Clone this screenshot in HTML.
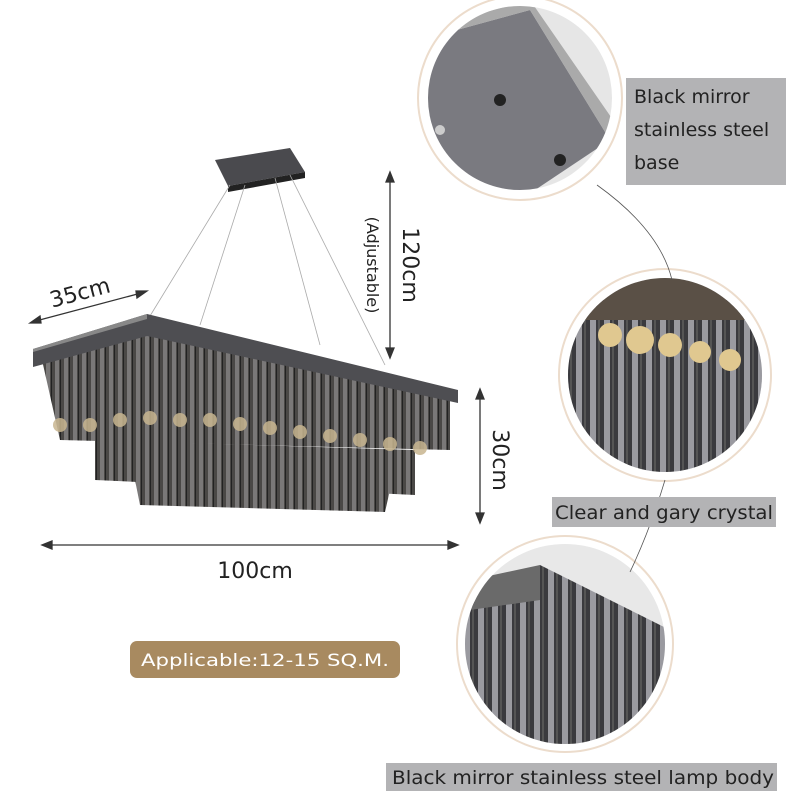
<!DOCTYPE html>
<html><head><style>
body{margin:0;background:#fff;width:800px;height:800px;overflow:hidden}
svg{display:block}
text{font-family:"DejaVu Sans","Liberation Sans",sans-serif}
</style></head><body>
<svg width="800" height="800" viewBox="0 0 800 800">
<defs>
<pattern id="cr" width="9" height="20" patternUnits="userSpaceOnUse">
<rect width="9" height="20" fill="#4a4846"/><rect x="1" width="4" height="20" fill="#7a7878"/><rect x="6" width="1" height="20" fill="#222"/>
</pattern>
<pattern id="cr2" width="14" height="20" patternUnits="userSpaceOnUse">
<rect width="14" height="20" fill="#3a3a3e"/><rect x="2" width="6" height="20" fill="#9a9aa0"/><rect x="10" width="2" height="20" fill="#555"/>
</pattern>
<clipPath id="c1"><circle cx="520" cy="98" r="92"/></clipPath>
<clipPath id="c2"><circle cx="665" cy="375" r="97"/></clipPath>
<clipPath id="c3"><circle cx="565" cy="644" r="100"/></clipPath>
</defs>
<polygon points="215,160 290,148 305,172 228,186" fill="#4a4a4e"/>
<polygon points="228,186 305,172 305,178 228,192" fill="#222"/>
<g stroke="#aaa" stroke-width="0.8">
<line x1="230" y1="185" x2="150" y2="316"/><line x1="245" y1="185" x2="200" y2="325"/>
<line x1="275" y1="178" x2="320" y2="345"/><line x1="290" y1="175" x2="385" y2="365"/>
</g>
<polygon points="42,360 147,330 450,400 450,450 60,440" fill="url(#cr)"/>
<polygon points="95,440 415,450 415,495 95,480" fill="url(#cr)"/>
<polygon points="135,480 390,490 385,512 140,505" fill="url(#cr)"/>
<polygon points="33,349 147,314 458,390 458,403 147,336 33,367" fill="#4e4e52"/>
<polygon points="33,349 147,314 147,319 33,352" fill="#888"/>
<g fill="#c8b690" opacity=".85">
<circle cx="60" cy="425" r="7"/><circle cx="90" cy="425" r="7"/><circle cx="120" cy="420" r="7"/><circle cx="150" cy="418" r="7"/><circle cx="180" cy="420" r="7"/><circle cx="210" cy="420" r="7"/><circle cx="240" cy="424" r="7"/><circle cx="270" cy="428" r="7"/><circle cx="300" cy="432" r="7"/><circle cx="330" cy="436" r="7"/><circle cx="360" cy="440" r="7"/><circle cx="390" cy="444" r="7"/><circle cx="420" cy="448" r="7"/>
</g>
<g stroke="#333" stroke-width="1.3" fill="#333">
<line x1="32" y1="322" x2="145" y2="292"/><polygon points="30,323 40,316 41,323"/><polygon points="147,291 137,298 136,291"/>
<line x1="390" y1="175" x2="390" y2="355"/><polygon points="390,172 386,182 394,182"/><polygon points="390,358 386,348 394,348"/>
<line x1="480" y1="392" x2="480" y2="520"/><polygon points="480,389 476,399 484,399"/><polygon points="480,523 476,513 484,513"/>
<line x1="45" y1="545" x2="455" y2="545"/><polygon points="42,545 52,541 52,549"/><polygon points="458,545 448,541 448,549"/>
</g>
<text x="80" y="300" font-size="22" fill="#222" text-anchor="middle" transform="rotate(-15 80 293)">35cm</text>
<text x="0" y="0" font-size="22" fill="#222" text-anchor="middle" transform="translate(403,265) rotate(90)">120cm</text>
<text x="0" y="0" font-size="16" fill="#222" text-anchor="middle" transform="translate(367,265) rotate(90)">(Adjustable)</text>
<text x="0" y="0" font-size="22" fill="#222" text-anchor="middle" transform="translate(493,460) rotate(90)">30cm</text>
<text x="255" y="578" font-size="22" fill="#222" text-anchor="middle">100cm</text>
<rect x="130" y="641" width="270" height="37" rx="7" fill="#a88a60"/>
<text x="265" y="666" font-size="17" fill="#fff" text-anchor="middle" textLength="248" lengthAdjust="spacingAndGlyphs">Applicable:12-15 SQ.M.</text>
<g fill="none" stroke="#ecdccc" stroke-width="2">
<circle cx="520" cy="98" r="102"/><circle cx="665" cy="375" r="106"/><circle cx="565" cy="644" r="108"/>
</g>
<g clip-path="url(#c1)">
<rect x="420" y="0" width="200" height="200" fill="#e6e6e6"/>
<polygon points="420,40 530,10 610,140 520,200 420,200" fill="#7a7a80"/>
<polygon points="420,30 530,0 620,130 610,140 530,10 420,40" fill="#aaa"/>
<circle cx="500" cy="100" r="6" fill="#222"/><circle cx="560" cy="160" r="6" fill="#222"/><circle cx="440" cy="130" r="5" fill="#ccc"/>
</g>
<g clip-path="url(#c2)">
<rect x="560" y="270" width="210" height="210" fill="#d8d8d8"/>
<rect x="560" y="300" width="210" height="180" fill="url(#cr2)"/>
<rect x="560" y="270" width="210" height="50" fill="#5a5046"/>
<g fill="#e0c890"><circle cx="610" cy="335" r="12"/><circle cx="640" cy="340" r="14"/><circle cx="670" cy="345" r="12"/><circle cx="700" cy="352" r="11"/><circle cx="730" cy="360" r="11"/></g>
</g>
<g clip-path="url(#c3)">
<rect x="460" y="540" width="210" height="210" fill="#e8e8e8"/>
<polygon points="460,610 540,565 670,630 670,760 460,760" fill="url(#cr2)"/>
<polygon points="470,580 540,565 540,600 470,610" fill="#6a6a6a"/>
</g>
<g stroke="#555" stroke-width="0.8" fill="none">
<path d="M597,185 Q660,230 672,280"/><path d="M665,480 Q650,530 630,572"/>
</g>
<rect x="626" y="78" width="160" height="107" fill="#b3b3b5"/>
<text font-size="19" fill="#222"><tspan x="634" y="103">Black mirror</tspan><tspan x="634" y="136">stainless steel</tspan><tspan x="634" y="169">base</tspan></text>
<rect x="552" y="497" width="224" height="30" fill="#b3b3b5"/>
<text x="555" y="519" font-size="19" fill="#222" textLength="218" lengthAdjust="spacingAndGlyphs">Clear and gary crystal</text>
<rect x="386" y="763" width="391" height="28" fill="#b3b3b5"/>
<text x="392" y="784" font-size="19" fill="#222" textLength="382" lengthAdjust="spacingAndGlyphs">Black mirror stainless steel lamp body</text>
</svg>
</body></html>
